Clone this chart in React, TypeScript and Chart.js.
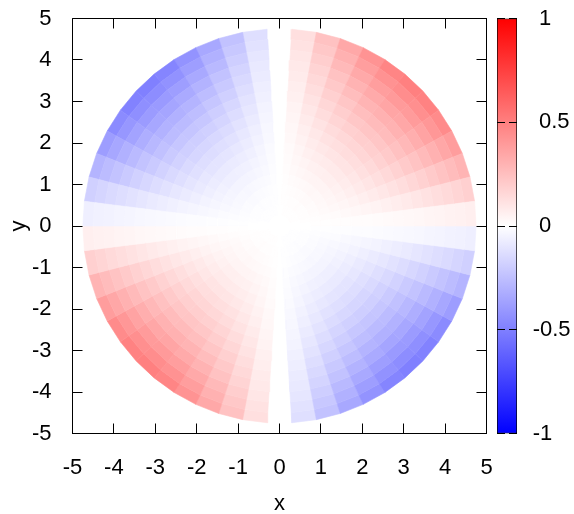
import React, { useEffect, useRef } from "react";
import { Chart, registerables } from "chart.js";

Chart.register(...registerables);

const FONT = "'Liberation Sans', Arial, sans-serif";
const FONT_SIZE = 22;

const axisTicks = [-5, -4, -3, -2, -1, 0, 1, 2, 3, 4, 5];
const frameCorners = [
  { x: -5, y: -5 },
  { x: 5, y: -5 },
  { x: 5, y: 5 },
  { x: -5, y: 5 },
  { x: -5, y: -5 },
];
const cbTickValues = [-1, -0.5, 0, 0.5, 1];
const cbNegativeTicks = [-1, -0.5];
const cbPositiveTicks = [0, 0.5, 1];
const paletteStops = [
  [-1, "#0000ff"],
  [0, "#ffffff"],
  [1, "#ff0000"],
] as const;

const ringRadii = [0, 0.25, 0.5, 0.75, 1, 1.25, 1.5, 1.75, 2, 2.25, 2.5, 2.75, 3, 3.25, 3.5, 3.75, 4, 4.25, 4.5, 4.75];
// sector edges (degrees); each row of the table below is one ring, each column one sector of the first quadrant
const quadrantEdges = [0, 7.2, 14.4, 21.6, 28.8, 36, 43.2, 50.4, 57.6, 64.8, 72, 79.2, 86.4];
const quadrantValues = [
  [0.000, 0.000, 0.000, 0.001, 0.001, 0.001, 0.001, 0.001, 0.001, 0.000, 0.000, 0.000],
  [0.000, 0.001, 0.002, 0.003, 0.003, 0.004, 0.004, 0.003, 0.003, 0.003, 0.002, 0.001],
  [0.001, 0.004, 0.006, 0.007, 0.009, 0.009, 0.010, 0.009, 0.008, 0.007, 0.005, 0.002],
  [0.002, 0.007, 0.011, 0.014, 0.017, 0.018, 0.018, 0.017, 0.015, 0.012, 0.009, 0.005],
  [0.004, 0.011, 0.018, 0.023, 0.027, 0.029, 0.030, 0.028, 0.025, 0.021, 0.014, 0.007],
  [0.006, 0.016, 0.026, 0.034, 0.040, 0.044, 0.045, 0.042, 0.038, 0.031, 0.022, 0.011],
  [0.008, 0.023, 0.037, 0.048, 0.056, 0.061, 0.062, 0.059, 0.053, 0.043, 0.030, 0.015],
  [0.010, 0.030, 0.049, 0.064, 0.075, 0.081, 0.082, 0.079, 0.070, 0.057, 0.040, 0.021],
  [0.013, 0.039, 0.062, 0.082, 0.096, 0.104, 0.106, 0.101, 0.090, 0.073, 0.051, 0.026],
  [0.017, 0.049, 0.078, 0.102, 0.120, 0.130, 0.132, 0.126, 0.112, 0.091, 0.064, 0.033],
  [0.020, 0.060, 0.095, 0.125, 0.146, 0.159, 0.161, 0.154, 0.137, 0.111, 0.078, 0.040],
  [0.024, 0.071, 0.114, 0.149, 0.175, 0.190, 0.193, 0.184, 0.164, 0.133, 0.093, 0.048],
  [0.029, 0.084, 0.135, 0.176, 0.207, 0.225, 0.229, 0.218, 0.193, 0.157, 0.110, 0.057],
  [0.033, 0.098, 0.157, 0.206, 0.242, 0.262, 0.267, 0.254, 0.225, 0.183, 0.129, 0.066],
  [0.039, 0.113, 0.181, 0.237, 0.279, 0.303, 0.307, 0.293, 0.260, 0.211, 0.148, 0.077],
  [0.044, 0.130, 0.207, 0.271, 0.318, 0.346, 0.351, 0.335, 0.297, 0.241, 0.170, 0.088],
  [0.050, 0.147, 0.234, 0.307, 0.361, 0.392, 0.398, 0.379, 0.337, 0.273, 0.192, 0.099],
  [0.056, 0.165, 0.264, 0.346, 0.406, 0.441, 0.448, 0.427, 0.379, 0.307, 0.216, 0.112],
  [0.063, 0.184, 0.295, 0.386, 0.454, 0.492, 0.500, 0.477, 0.423, 0.343, 0.241, 0.125],
];

function cellColor(z: number): string {
  const c = Math.round(255 * (1 - Math.min(1, Math.abs(z))));
  return z >= 0 ? `rgb(255,${c},${c})` : `rgb(${c},${c},255)`;
}

function cellDataset(r0: number, r1: number, a0: number, a1: number, z: number) {
  const pt = (r: number, a: number) => ({
    x: r * Math.cos((a * Math.PI) / 180),
    y: r * Math.sin((a * Math.PI) / 180),
  });
  const color = cellColor(z);
  return {
    type: "scatter" as const,
    showLine: true,
    fill: "shape",
    data: [pt(r0, a0), pt(r1, a0), pt(r1, a1), pt(r0, a1), pt(r0, a0)],
    backgroundColor: color,
    borderColor: color,
    borderWidth: 0.6,
    pointRadius: 0,
    tension: 0,
  };
}

function buildDatasets() {
  const out: any[] = [
    {
      type: "scatter",
      showLine: true,
      fill: false,
      data: frameCorners,
      borderColor: "#000",
      borderWidth: 1,
      pointRadius: 0,
      clip: false,
    },
  ];
  ringRadii.slice(0, -1).forEach((r0, i) => {
    const r1 = ringRadii[i + 1];
    quadrantValues[i].forEach((z, j) => {
      const a0 = quadrantEdges[j];
      const a1 = quadrantEdges[j + 1];
      out.push(cellDataset(r0, r1, a0, a1, z)); // first quadrant
      out.push(cellDataset(r0, r1, 180 - a1, 180 - a0, -z)); // second
      out.push(cellDataset(r0, r1, 180 + a0, 180 + a1, z)); // third
      out.push(cellDataset(r0, r1, 360 - a1, 360 - a0, -z)); // fourth
    });
  });
  return out;
}

const tickFont = { family: FONT, size: FONT_SIZE };

function fixSize(s: any, size: number) {
  if (s.isHorizontal()) s.height = size;
  else s.width = size;
  s.paddingTop = s.paddingBottom = s.paddingLeft = s.paddingRight = 0;
}

function frameAxis(position: string, size: number, labelled: boolean, padding: number, title?: any): any {
  return {
    type: "linear",
    position,
    min: -5,
    max: 5,
    afterBuildTicks: (s: any) => {
      s.ticks = axisTicks.map((value) => ({ value }));
    },
    afterFit: (s: any) => fixSize(s, size),
    border: { display: false },
    grid: { drawOnChartArea: false, drawTicks: true, tickLength: -10, color: "#000", lineWidth: 1, z: 1 },
    ticks: {
      display: labelled,
      color: "#000",
      font: tickFont,
      padding,
      autoSkip: false,
      maxRotation: 0,
      callback: (v: any) => String(v),
    },
    title: title ? { display: true, color: "#000", font: tickFont, ...title } : { display: false },
  };
}

function cbAxis(weight: number, width: number, values: number[], labelled: boolean, padding: number, tick: boolean): any {
  return {
    type: "linear",
    position: "right",
    weight,
    min: -1,
    max: 1,
    afterBuildTicks: (s: any) => {
      s.ticks = values.map((value) => ({ value }));
    },
    afterFit: (s: any) => fixSize(s, width),
    border: { display: false },
    grid: { display: tick, drawOnChartArea: false, drawTicks: tick, tickLength: -8, color: "#000", lineWidth: 1, z: 2 },
    ticks: {
      display: labelled,
      color: "#000",
      font: tickFont,
      padding,
      crossAlign: "near",
      autoSkip: false,
      callback: (v: any) => String(v),
    },
  };
}

// The labels of a scale are clipped to its box; let both label axes reach the canvas edge.
const widenLabelAxes = {
  id: "widenLabelAxes",
  afterLayout(chart: any) {
    chart.scales.cbNeg.right = chart.width;
    chart.scales.cbPos.right = chart.width;
  },
};

export default function App() {
  const mainRef = useRef<HTMLCanvasElement>(null);
  const barRef = useRef<HTMLCanvasElement>(null);

  useEffect(() => {
    const main = new Chart(mainRef.current!, {
      type: "scatter",
      data: { datasets: buildDatasets() },
      options: {
        responsive: false,
        animation: false,
        events: [],
        layout: { padding: 0 },
        plugins: { legend: { display: false }, tooltip: { enabled: false } },
        scales: {
          x: frameAxis("bottom", 80.5, true, 31, { text: "x", padding: { top: 0, bottom: -3 } }),
          y: frameAxis("left", 72.5, true, 31, { text: "y", padding: { top: 6, bottom: 0 } }),
          x2: { ...frameAxis("top", 18.5, false, 0), axis: "x" },
          y2: { ...frameAxis("right", 87.5, false, 0), axis: "y" },
        },
      } as any,
    });

    const bar = new Chart(barRef.current!, {
      type: "bar",
      data: {
        labels: ["colorbar"],
        datasets: [
          {
            data: [[-1, 1]] as any,
            barPercentage: 1,
            categoryPercentage: 1,
            borderColor: "#000",
            borderWidth: 1,
            borderSkipped: false,
            backgroundColor: (ctx: any) => {
              const { chart } = ctx;
              if (!chart.chartArea) return "#fff";
              const y = chart.scales.y;
              const g = chart.ctx.createLinearGradient(0, y.getPixelForValue(-1), 0, y.getPixelForValue(1));
              paletteStops.forEach(([v, c]) => g.addColorStop((v + 1) / 2, c));
              return g;
            },
          },
        ],
      },
      options: {
        responsive: false,
        animation: false,
        events: [],
        layout: { padding: { top: 18.5, bottom: 80.5, left: 0, right: 0 } },
        plugins: { legend: { display: false }, tooltip: { enabled: false } },
        scales: {
          x: { display: false },
          y: {
            type: "linear",
            position: "left",
            min: -1,
            max: 1,
            afterBuildTicks: (s: any) => {
              s.ticks = cbTickValues.map((value) => ({ value }));
            },
            afterFit: (s: any) => fixSize(s, 10),
            border: { display: false },
            grid: { drawOnChartArea: false, drawTicks: true, tickLength: -8, color: "#000", lineWidth: 1, z: 2 },
            ticks: { display: false },
          },
          cbMirror: cbAxis(0, 1, cbTickValues, false, 0, true),
          cbNeg: cbAxis(1, 10, cbNegativeTicks, true, 14.7, false),
          cbPos: cbAxis(2, 46, cbPositiveTicks, true, 11, false),
        },
      } as any,
      plugins: [widenLabelAxes],
    });

    return () => {
      main.destroy();
      bar.destroy();
    };
  }, []);

  return (
    <div style={{ position: "fixed", left: 0, top: 0, width: 574, height: 514 }}>
      <canvas ref={mainRef} width={574} height={514} style={{ position: "absolute", left: 0, top: 0, display: "block" }} />
      <canvas ref={barRef} width={87} height={514} style={{ position: "absolute", left: 487, top: 0, display: "block" }} />
    </div>
  );
}
